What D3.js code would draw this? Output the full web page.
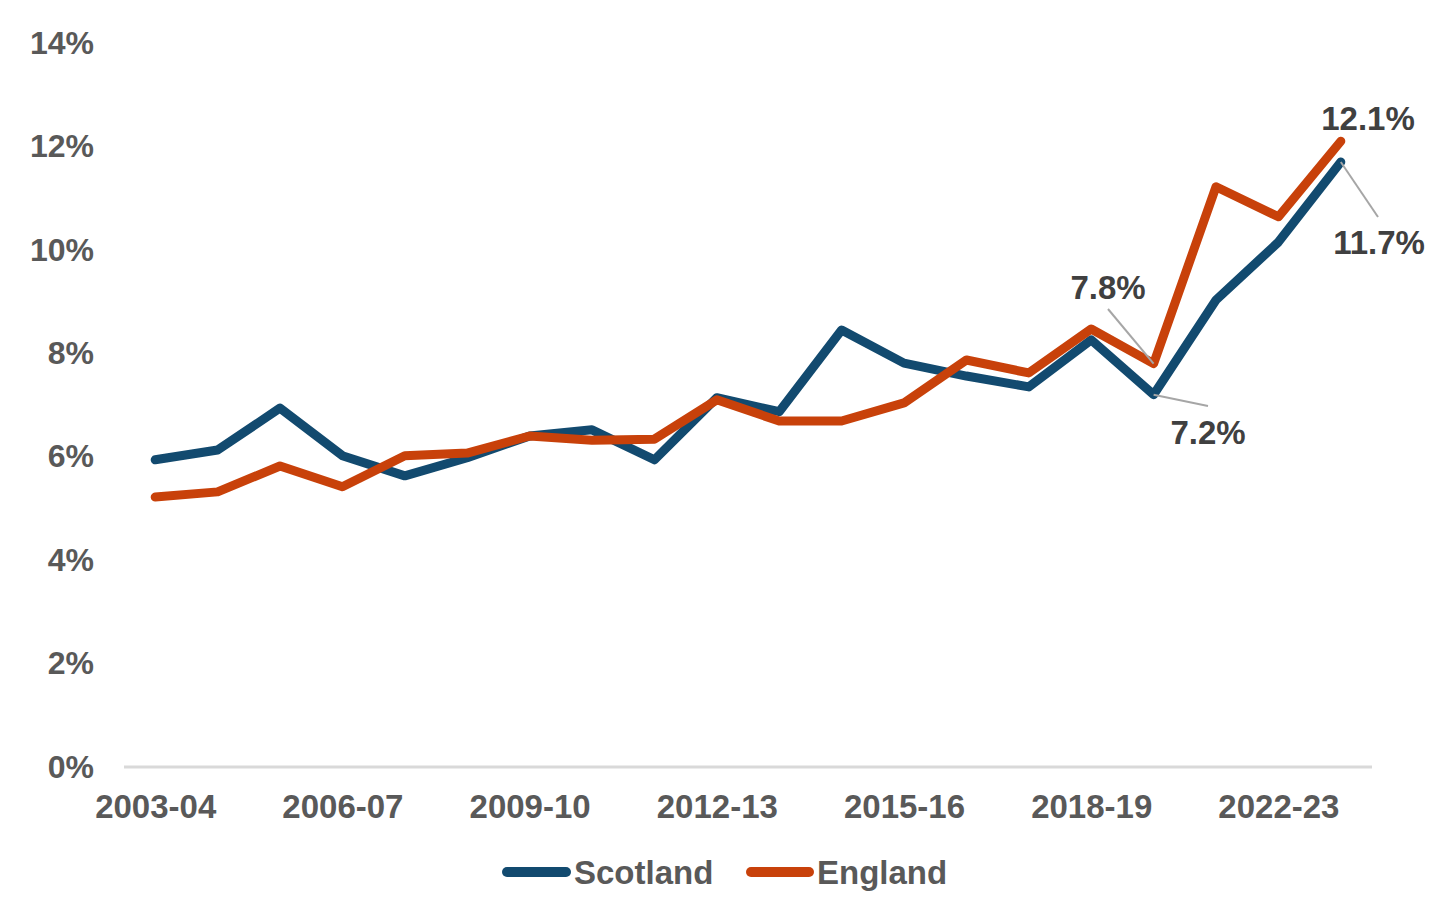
<!DOCTYPE html>
<html>
<head>
<meta charset="utf-8">
<script src="https://cdn.jsdelivr.net/npm/d3@7"></script>
<style>
  html, body { margin: 0; padding: 0; background: #fff; }
  svg { display: block; font-family: "Liberation Sans", Arial, sans-serif; font-weight: bold; }
</style>
</head>
<body>
<svg id="chart" width="1446" height="904"></svg>
<script>
const categories = ["2003-04","2004-05","2005-06","2006-07","2007-08","2008-09","2009-10","2010-11","2011-12","2012-13","2013-14","2014-15","2015-16","2016-17","2017-18","2018-19","2019-20","2021-22","2022-23","2023-24"];
const tickLabels = ["2003-04","2006-07","2009-10","2012-13","2015-16","2018-19","2022-23"];
const scotland = [5.94,6.13,6.94,6.02,5.63,5.98,6.40,6.52,5.94,7.14,6.87,8.45,7.81,7.56,7.35,8.26,7.2,9.03,10.15,11.7];
const england  = [5.22,5.32,5.82,5.42,6.02,6.07,6.40,6.32,6.34,7.10,6.69,6.69,7.04,7.87,7.62,8.47,7.8,11.22,10.64,12.1];
const yTicks = [0,2,4,6,8,10,12,14];
const seriesNames = ["Scotland","England"];
const colors = ["#124A6F","#C8410A"];
const callouts = [
  {s:1, i:16, lx:1108, ly:287, ex:1108, ey:309},
  {s:0, i:16, lx:1208, ly:432, ex:1208, ey:406},
  {s:1, i:19, lx:1368, ly:118, ex:null, ey:null},
  {s:0, i:19, lx:1379, ly:242, ex:1378, ey:217}
];

const svg = d3.select("#chart");
const x = d3.scalePoint().domain(categories).range([124, 1372]).padding(0.5);
const y = d3.scaleLinear().domain([0, 14]).range([767, 43]);

const yAxis = d3.axisLeft(y).tickValues(yTicks).tickFormat(d => d + "%").tickSize(0).tickPadding(0);
const gy = svg.append("g").attr("transform", "translate(94,0)").call(yAxis);
gy.select(".domain").remove();
gy.selectAll("text").attr("font-size", 32).attr("fill", "#595959").attr("font-family", "Liberation Sans, Arial, sans-serif").attr("font-weight", "bold");

const xAxis = d3.axisBottom(x).tickValues(tickLabels).tickSize(0).tickPadding(0);
const gx = svg.append("g").attr("transform", "translate(0," + y(0) + ")").call(xAxis);
gx.select(".domain").attr("stroke", "#d9d9d9").attr("stroke-width", 3)
  .attr("d", "M124,0H1372");
gx.selectAll("text").attr("font-size", 33).attr("fill", "#595959").attr("y", 39).attr("dy", "0.35em")
  .attr("font-family", "Liberation Sans, Arial, sans-serif").attr("font-weight", "bold");

const data = [scotland, england];
const line = d3.line().x((d, i) => x(categories[i])).y(d => y(d));
data.forEach((vals, k) => {
  svg.append("path").datum(vals).attr("d", line)
    .attr("fill", "none").attr("stroke", colors[k]).attr("stroke-width", 9)
    .attr("stroke-linejoin", "round").attr("stroke-linecap", "round");
});

callouts.forEach(c => {
  const v = data[c.s][c.i];
  const px = x(categories[c.i]), py = y(v);
  if (c.ex !== null) {
    svg.append("line").attr("x1", px).attr("y1", py).attr("x2", c.ex).attr("y2", c.ey)
      .attr("stroke", "#a6a6a6").attr("stroke-width", 2);
  }
  svg.append("text").attr("x", c.lx).attr("y", c.ly).attr("dy", "0.35em")
    .attr("text-anchor", "middle").attr("font-size", 33).attr("fill", "#404040")
    .text(v.toFixed(1) + "%");
});

const legendItems = [{x0:507, x1:566, tx:574}, {x0:751, x1:809, tx:817}];
legendItems.forEach((L, k) => {
  svg.append("line").attr("x1", L.x0).attr("x2", L.x1).attr("y1", 872).attr("y2", 872)
    .attr("stroke", colors[k]).attr("stroke-width", 10).attr("stroke-linecap", "round");
  svg.append("text").attr("x", L.tx).attr("y", 872).attr("dy", "0.35em")
    .attr("font-size", 33).attr("fill", "#595959").text(seriesNames[k]);
});
</script>
</body>
</html>
